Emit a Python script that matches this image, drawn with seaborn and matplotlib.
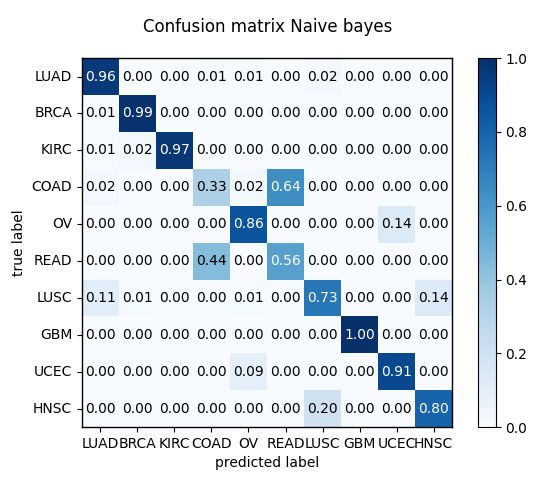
import numpy as np
import pandas as pd
import matplotlib
matplotlib.use("Agg")
import matplotlib.pyplot as plt
import seaborn as sns

labels = ["LUAD", "BRCA", "KIRC", "COAD", "OV", "READ", "LUSC", "GBM", "UCEC", "HNSC"]
row_LUAD = [0.96, 0.00, 0.00, 0.01, 0.01, 0.00, 0.02, 0.00, 0.00, 0.00]
row_BRCA = [0.01, 0.99, 0.00, 0.00, 0.00, 0.00, 0.00, 0.00, 0.00, 0.00]
row_KIRC = [0.01, 0.02, 0.97, 0.00, 0.00, 0.00, 0.00, 0.00, 0.00, 0.00]
row_COAD = [0.02, 0.00, 0.00, 0.33, 0.02, 0.64, 0.00, 0.00, 0.00, 0.00]
row_OV = [0.00, 0.00, 0.00, 0.00, 0.86, 0.00, 0.00, 0.00, 0.14, 0.00]
row_READ = [0.00, 0.00, 0.00, 0.44, 0.00, 0.56, 0.00, 0.00, 0.00, 0.00]
row_LUSC = [0.11, 0.01, 0.00, 0.00, 0.01, 0.00, 0.73, 0.00, 0.00, 0.14]
row_GBM = [0.00, 0.00, 0.00, 0.00, 0.00, 0.00, 0.00, 1.00, 0.00, 0.00]
row_UCEC = [0.00, 0.00, 0.00, 0.00, 0.09, 0.00, 0.00, 0.00, 0.91, 0.00]
row_HNSC = [0.00, 0.00, 0.00, 0.00, 0.00, 0.00, 0.20, 0.00, 0.00, 0.80]

matrix = np.array([row_LUAD, row_BRCA, row_KIRC, row_COAD, row_OV,
                   row_READ, row_LUSC, row_GBM, row_UCEC, row_HNSC])
df = pd.DataFrame(matrix, index=labels, columns=labels)

fig = plt.figure(figsize=(5.46, 4.8), dpi=100)
ax = fig.add_axes([0.150, 0.110, 0.678, 0.769])
cax = fig.add_axes([0.875, 0.110, 0.033, 0.769])

sns.heatmap(df, ax=ax, cbar_ax=cax, cmap="Blues", vmin=0, vmax=1,
            annot=True, fmt=".2f", annot_kws={"fontsize": 10}, square=False)

flat = matrix.flatten()
for t, v in zip(ax.texts, flat):
    t.set_color("white" if v > 0.5 else "black")

for s in ax.spines.values():
    s.set_visible(True)
    s.set_color("black")
    s.set_linewidth(1.0)

ax.set_xticklabels(labels, rotation=0, fontsize=10)
ax.set_yticklabels(labels, rotation=0, fontsize=10)
ax.tick_params(axis="both", length=3.5, width=0.8, color="black")
ax.set_xlabel("predicted label", fontsize=10)
ax.set_ylabel("true label", fontsize=10)

cbar = ax.collections[0].colorbar
cbar.set_ticks([0.0, 0.2, 0.4, 0.6, 0.8, 1.0])
cbar.set_ticklabels(["0.0", "0.2", "0.4", "0.6", "0.8", "1.0"])
cbar.outline.set_visible(True)
cbar.outline.set_edgecolor("black")
cbar.outline.set_linewidth(0.8)
cax.tick_params(labelsize=10, length=3.5, width=0.8)

fig.suptitle("Confusion matrix Naive bayes", x=0.49, y=0.963, fontsize=12)

fig.savefig("out.png", dpi=100)
